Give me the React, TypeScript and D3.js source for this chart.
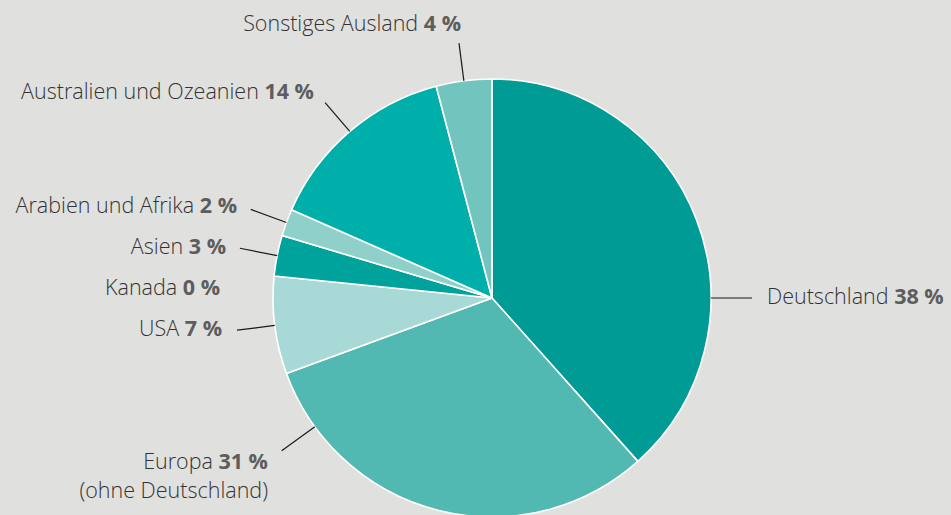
import React from "react";
import * as d3 from "d3";

const categories = [
  "Deutschland",
  "Europa",
  "USA",
  "Kanada",
  "Asien",
  "Arabien und Afrika",
  "Australien und Ozeanien",
  "Sonstiges Ausland",
];
const shares = [38.4, 31.0, 7.2, 0, 3.0, 2.0, 14.3, 4.1];
const shareLabels = ["38 %", "31 %", "7 %", "0 %", "3 %", "2 %", "14 %", "4 %"];
const subLabels = ["", "(ohne Deutschland)", "", "", "", "", "", ""];
const colors = ["#009b94", "#52b9b2", "#a9d9d6", "#7ccac4", "#00a39c", "#90d0ca", "#00afaa", "#71c5be"];

// label layout: text anchor point, anchor, leader angle override (degrees, null = slice middle), show leader
const labelLayout = [
  { x: 767, y: 304, anchor: "start", angle: 90, leader: true },
  { x: 268, y: 469, anchor: "end", angle: 234, leader: true },
  { x: 222, y: 336, anchor: "end", angle: null, leader: true },
  { x: 220, y: 295, anchor: "end", angle: null, leader: false },
  { x: 226, y: 254, anchor: "end", angle: null, leader: true },
  { x: 237, y: 213, anchor: "end", angle: null, leader: true },
  { x: 314, y: 99, anchor: "end", angle: null, leader: true },
  { x: 461, y: 31, anchor: "end", angle: null, leader: true },
];

const W = 951;
const H = 515;
const cx = 492;
const cy = 298;
const R = 219;
const R2 = 257;
const FS = 21.5;

export default function App() {
  const data = categories.map((c, i) => ({ c, v: shares[i], i }));
  const pie = d3.pie<any>().value((d) => d.v).sort(null).startAngle(0).endAngle(2 * Math.PI);
  const arcs = pie(data);
  const arc = d3.arc<any>().innerRadius(0).outerRadius(R);
  const pt = (a: number, r: number) => [Math.sin(a) * r, -Math.cos(a) * r];

  return (
    <svg width={W} height={H} style={{ position: "absolute", left: 0, top: 0, background: "#e0e0df" }}
      fontFamily="'Open Sans', 'Noto Sans', sans-serif">
      <rect width={W} height={H} fill="#e0e0df" />
      <g transform={`translate(${cx},${cy})`}>
        {arcs.map((a, i) =>
          a.endAngle - a.startAngle > 0 ? (
            <path key={i} d={arc(a) as string} fill={colors[i]} stroke="#ffffff" strokeWidth={1.6} strokeLinejoin="round" />
          ) : null
        )}
        {arcs.map((a, i) => {
          const L = labelLayout[i];
          if (!L.leader) return null;
          const ang = L.angle != null ? (L.angle * Math.PI) / 180 : (a.startAngle + a.endAngle) / 2;
          const r2 = L.angle != null ? 260 : R2;
          const [x1, y1] = pt(ang, R);
          const [x2, y2] = pt(ang, r2);
          return <line key={"l" + i} x1={x1} y1={y1} x2={x2} y2={y2} stroke="#1a1a1a" strokeWidth={1.2} />;
        })}
      </g>
      {categories.map((c, i) => {
        const L = labelLayout[i];
        return (
          <g key={"t" + i}>
            <text x={L.x} y={L.y} textAnchor={L.anchor} fontSize={FS} fill="#333333" fontWeight={300}>
              {c + " "}
              <tspan fontWeight={700} fill="#5d5d5d">{shareLabels[i]}</tspan>
            </text>
            {subLabels[i] ? (
              <text x={L.x} y={L.y + 29} textAnchor={L.anchor} fontSize={FS} fill="#333333" fontWeight={300}>
                {subLabels[i]}
              </text>
            ) : null}
          </g>
        );
      })}
    </svg>
  );
}
